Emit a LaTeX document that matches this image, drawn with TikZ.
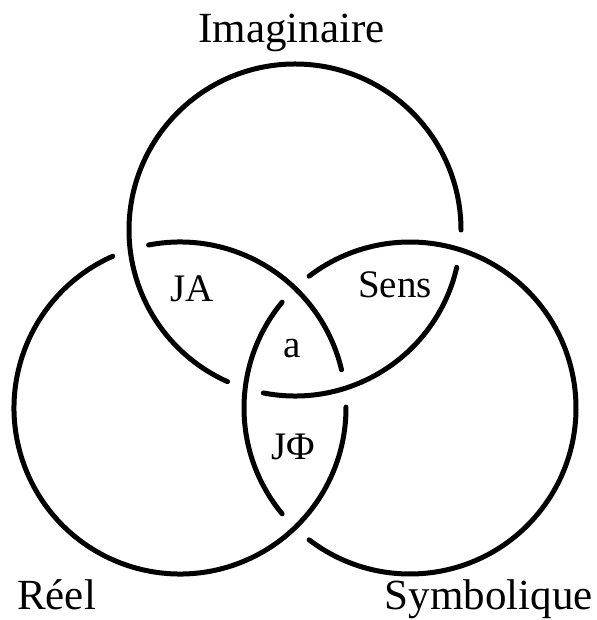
\documentclass[tikz,border=0pt]{standalone}
\usepackage{fontspec}
\setmainfont{Liberation Serif}
\usepackage{tikz}
\usetikzlibrary{positioning}

% one piece of a ring: centre, start angle, end angle
\newcommand{\ringarc}[3]{\draw[ring] ([shift={(#2:166pt)}]#1) arc[start angle=#2,end angle=#3,radius=166pt];}

\begin{document}
\begin{tikzpicture}[x=1pt,y=1pt]
\tikzstyle{ring}=[line width=5pt,line cap=round]
\tikzstyle{big}=[font=\fontsize{43}{48}\selectfont,anchor=base,inner sep=0pt]
\tikzstyle{small}=[font=\fontsize{39}{44}\selectfont,anchor=base,inner sep=0pt]
\useasboundingbox (0,0) rectangle (596,620);
\coordinate (imag) at (295,390);
\coordinate (reel) at (180,212);
\coordinate (symb) at (410,212);
% I sous S, R sous I, S sous R
\ringarc{imag}{259}{347}
\ringarc{imag}{0}{246}
\ringarc{reel}{13.3}{100.9}
\ringarc{reel}{113.9}{360.3}
\ringarc{symb}{140.4}{219.6}
\ringarc{symb}{232.6}{487.4}
\node[big] (imaglbl) at (291.5,577) {Imaginaire};
\node[big,anchor=base west] (reellbl) at (17,10) {Réel};
\node[big,anchor=base east] (symblbl) at (593,10) {Symbolique};
\node[small] (ja) at (192,318) {JA};
\node[small] (sens) at (395,322) {Sens};
\node[small] (obja) at (292,262) {a};
\node[small] (jphi) at (293,160) {JΦ};
\end{tikzpicture}
\end{document}
